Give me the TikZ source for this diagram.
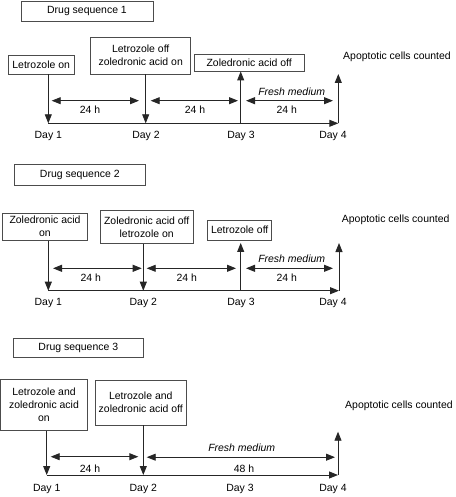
\documentclass[tikz,border=0pt]{standalone}
\usepackage{fontspec}
\setmainfont{Liberation Sans}
\usetikzlibrary{arrows.meta}
\begin{document}
\begin{tikzpicture}[x=1bp,y=-1bp,
  box/.style={draw=black!70, line width=0.9bp, inner sep=0pt, align=center, font=\fontsize{10.5}{13}\selectfont},
  txt/.style={inner sep=0pt, font=\fontsize{10.5}{13}\selectfont},
  arr/.style={draw=black!85, line width=0.9bp, -{Triangle[length=9bp,width=7bp]}},
  dbl/.style={draw=black!85, line width=0.9bp, {Triangle[length=9bp,width=7bp]}-{Triangle[length=9bp,width=7bp]}}]
\useasboundingbox (0,0) rectangle (456,497);

% ---------- Sequence 1 ----------
\node[box, minimum width=132bp, minimum height=20bp] (ds1) at (87,11) {Drug sequence 1};
\node[box, minimum width=65.7bp, minimum height=19bp] (b11) at (41.2,64.5) {Letrozole on};
\node[box, minimum width=100bp, minimum height=36.7bp] (b12) at (140.7,55.7) {Letrozole off\\zoledronic acid on};
\node[box, minimum width=109.7bp, minimum height=17bp] (b13) at (249.2,62.5) {Zoledronic acid off};
\node[txt, anchor=west] (ap1) at (343,57) {Apoptotic cells counted};
\coordinate (d11) at (48.3,123.3);
\coordinate (d12) at (145.7,123.3);
\coordinate (d13) at (240.7,123.3);
\coordinate (d14) at (338.3,123.3);
\coordinate (t14) at (338.3,74);
\draw[arr] (b11.south -| d11) -- (d11);
\draw[arr] (b12.south -| d12) -- (d12);
\draw[arr] (d11) -- (d14);
\draw[arr] (d13) -- (b13.south -| d13);
\draw[arr] (d14) -- (t14);
\coordinate (a11l) at (51.7,100.7); \coordinate (a11r) at (139,100.7);
\coordinate (a12l) at (150.7,100.7); \coordinate (a12r) at (238,100.7);
\coordinate (a13l) at (246,100.7); \coordinate (a13r) at (333,100.7);
\draw[dbl] (a11l) -- (a11r);
\draw[dbl] (a12l) -- (a12r);
\draw[dbl] (a13l) -- (a13r);
\node[txt] (h11) at (90,110) {24 h};
\node[txt] (h12) at (195,110) {24 h};
\node[txt] (h13) at (286.7,110) {24 h};
\node[txt, font=\fontsize{10.5}{13}\selectfont\itshape] (f1) at (291.7,91.5) {Fresh medium};
\node[txt] (l11) at (48.3,135.5) {Day 1};
\node[txt] (l12) at (146,135.5) {Day 2};
\node[txt] (l13) at (241,135.5) {Day 3};
\node[txt] (l14) at (333,135.5) {Day 4};

% ---------- Sequence 2 ----------
\node[box, minimum width=130.3bp, minimum height=21bp] (ds2) at (79.8,174.5) {Drug sequence 2};
\node[box, minimum width=84.6bp, minimum height=26.7bp] (b21) at (45,226.7) {Zoledronic acid\\on};
\node[box, minimum width=93.3bp, minimum height=32.6bp] (b22) at (146.7,227) {Zoledronic acid off\\letrozole on};
\node[box, minimum width=64bp, minimum height=20bp] (b23) at (239.7,230) {Letrozole off};
\node[txt, anchor=west] (ap2) at (341.7,219.3) {Apoptotic cells counted};
\coordinate (d21) at (48.3,290.7);
\coordinate (d22) at (143.3,290.7);
\coordinate (d23) at (240.7,290.7);
\coordinate (d24) at (339,290.7);
\coordinate (t24) at (339,243);
\draw[arr] (b21.south -| d21) -- (d21);
\draw[arr] (b22.south -| d22) -- (d22);
\draw[arr] (d21) -- (d24);
\draw[arr] (d23) -- ([yshift=-2.5bp]b23.south -| d23);
\draw[arr] (d24) -- (t24);
\coordinate (a21l) at (53,268.3); \coordinate (a21r) at (141.7,268.3);
\coordinate (a22l) at (146.7,268.3); \coordinate (a22r) at (236,268.3);
\coordinate (a23l) at (246,268.3); \coordinate (a23r) at (333,268.3);
\draw[dbl] (a21l) -- (a21r);
\draw[dbl] (a22l) -- (a22r);
\draw[dbl] (a23l) -- (a23r);
\node[txt] (h21) at (90.7,278) {24 h};
\node[txt] (h22) at (186.7,278) {24 h};
\node[txt] (h23) at (286.7,278) {24 h};
\node[txt, font=\fontsize{10.5}{13}\selectfont\itshape] (f2) at (291.7,258.3) {Fresh medium};
\node[txt] (l21) at (48.3,303.3) {Day 1};
\node[txt] (l22) at (143.3,303.3) {Day 2};
\node[txt] (l23) at (241,303.3) {Day 3};
\node[txt] (l24) at (333,303.3) {Day 4};

% ---------- Sequence 3 ----------
\node[box, minimum width=130bp, minimum height=19bp] (ds3) at (78.3,347.8) {Drug sequence 3};
\node[box, minimum width=86.8bp, minimum height=50.7bp] (b31) at (44,404.7) {Letrozole and\\zoledronic acid\\on};
\node[box, minimum width=90.3bp, minimum height=45bp] (b32) at (140.8,402.5) {Letrozole and\\zoledronic acid off};
\node[txt, anchor=west] (ap3) at (345,406) {Apoptotic cells counted};
\coordinate (d31) at (46.7,475);
\coordinate (d32) at (143.3,475);
\coordinate (d34) at (338,475);
\coordinate (t34) at (338,431.7);
\draw[arr] (b31.south -| d31) -- (d31);
\draw[arr] (b32.south -| d32) -- (d32);
\draw[arr] (d31) -- (d34);
\draw[arr] (d34) -- (t34);
\coordinate (a31l) at (50.7,456.7); \coordinate (a31r) at (138.3,456.7);
\coordinate (a32l) at (146.7,457.2); \coordinate (a32r) at (335,457.2);
\draw[dbl] (a31l) -- (a31r);
\draw[dbl] (a32l) -- (a32r);
\node[txt] (h31) at (90,468.3) {24 h};
\node[txt] (h32) at (244,468.3) {48 h};
\node[txt, font=\fontsize{10.5}{13}\selectfont\itshape] (f3) at (241.7,447.3) {Fresh medium};
\node[txt] (l31) at (46.7,488.5) {Day 1};
\node[txt] (l32) at (143.3,488.5) {Day 2};
\node[txt] (l33) at (240,488.5) {Day 3};
\node[txt] (l34) at (333,488.5) {Day 4};
\end{tikzpicture}
\end{document}
